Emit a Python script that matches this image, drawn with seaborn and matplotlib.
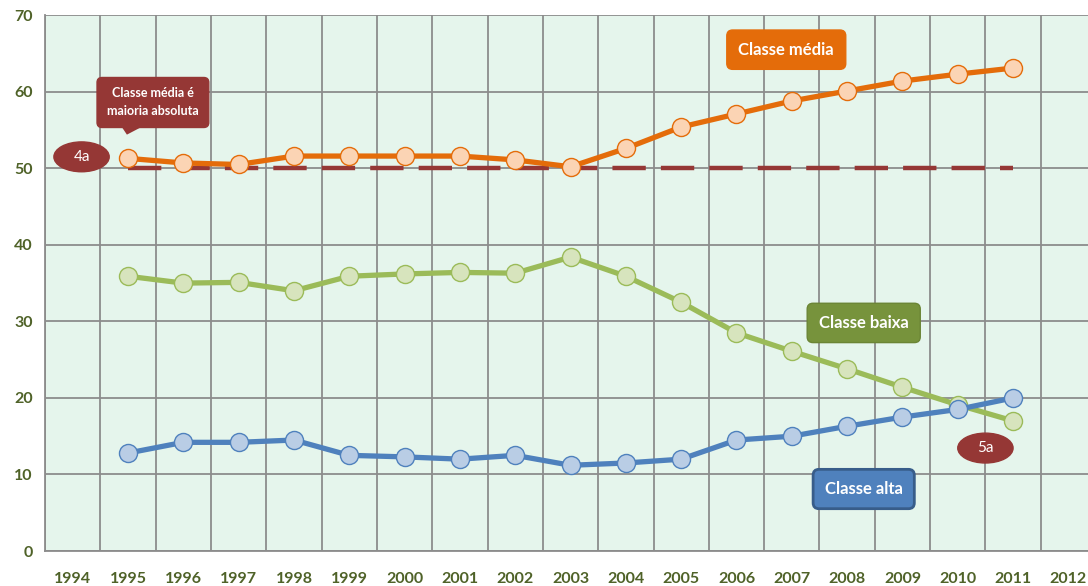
import numpy as np
import pandas as pd
import matplotlib
matplotlib.use('Agg')
import matplotlib.pyplot as plt
import seaborn as sns
from matplotlib.patches import Polygon, Ellipse

anos = list(range(1995, 2012))
classe_media = [51.3, 50.7, 50.5, 51.6, 51.6, 51.6, 51.6, 51.1, 50.2, 52.6, 55.4, 57.1, 58.8, 60.1, 61.4, 62.3, 63.1]
classe_baixa = [35.9, 35.0, 35.1, 34.0, 35.9, 36.2, 36.4, 36.3, 38.4, 35.9, 32.5, 28.5, 26.1, 23.8, 21.4, 19.1, 17.0]
classe_alta = [12.8, 14.2, 14.2, 14.5, 12.5, 12.3, 12.0, 12.5, 11.2, 11.5, 12.0, 14.5, 15.0, 16.3, 17.5, 18.5, 20.0]
maioria = [50] * len(anos)
x_ticks = list(range(1994, 2013))
y_ticks = [0, 10, 20, 30, 40, 50, 60, 70]

sns.set_style('white')
plt.rcParams['font.family'] = ['Lato', 'DejaVu Sans']

fig = plt.figure(figsize=(10.88, 5.86), dpi=100)
ax = fig.add_axes([0.0414, 0.0597, 0.966, 0.9143])
ax.set_facecolor('#e5f5ec')

# linha de 50%
sns.lineplot(x=anos, y=maioria, ax=ax, color='#953735', linewidth=3.2, dashes=(7.5, 3.4), zorder=2)

series = [
    (classe_media, '#e46c0a', '#fbd4b4'),
    (classe_baixa, '#9bbb59', '#d7e4bd'),
    (classe_alta, '#4f81bd', '#b9cde5'),
]
for vals, cor, face in series:
    sns.lineplot(x=anos, y=vals, ax=ax, color=cor, linewidth=3.8, marker='o', markersize=13,
                 markerfacecolor=face, markeredgecolor=cor, markeredgewidth=1.0, zorder=3)

ax.set_xlim(1993.5, 2012.5)
ax.set_ylim(0, 70)
ax.set_xticks(x_ticks)
ax.set_yticks(y_ticks)
ax.set_xticks(np.arange(1993.5, 2013, 1), minor=True)
ax.grid(which='minor', axis='x', color='#8c8c8c', linewidth=1.3)
ax.grid(which='major', axis='y', color='#8c8c8c', linewidth=1.3)
ax.grid(which='major', axis='x', visible=False)
ax.tick_params(axis='both', which='both', length=0)
ax.tick_params(axis='x', pad=15)
ax.tick_params(axis='y', pad=9)
for lab in ax.get_xticklabels() + ax.get_yticklabels():
    lab.set_fontweight('bold')
    lab.set_color('#4f6228')
    lab.set_fontsize(11.5)
for s in ['left', 'bottom']:
    ax.spines[s].set_color('#8c8c8c')
    ax.spines[s].set_linewidth(1.3)
for s in ['top', 'right']:
    ax.spines[s].set_visible(False)
ax.set_xlabel('')
ax.set_ylabel('')

# rótulos das séries
caixa = 'round,pad=0.7,rounding_size=0.35'
ax.text(2006.9, 65.5, 'Classe média', ha='center', va='center', color='white', fontsize=12, fontweight='bold',
        bbox=dict(boxstyle=caixa, fc='#e46c0a', ec='#e46c0a'), zorder=5)
ax.text(2008.3, 29.8, 'Classe baixa', ha='center', va='center', color='white', fontsize=12, fontweight='bold',
        bbox=dict(boxstyle=caixa, fc='#77933c', ec='#6b8535'), zorder=5)
ax.text(2008.3, 8.1, 'Classe alta', ha='center', va='center', color='white', fontsize=12, fontweight='bold',
        bbox=dict(boxstyle=caixa, fc='#4f81bd', ec='#385d8a', lw=2), zorder=5)

# balão
ax.text(1995.45, 58.6, 'Classe média é\nmaioria absoluta', ha='center', va='center', color='white',
        fontsize=9, fontweight='bold', linespacing=1.6,
        bbox=dict(boxstyle='round,pad=0.8,rounding_size=0.4', fc='#953735', ec='#953735'), zorder=5)
ax.add_patch(Polygon([[1994.85, 55.8], [1995.35, 55.8], [1994.98, 54.4]], closed=True,
                     fc='#953735', ec='none', zorder=5))

for xc, yc, txt in [(1994.16, 51.5, '4a'), (2010.5, 13.45, '5a')]:
    ax.add_patch(Ellipse((xc, yc), 1.0, 3.9, fc='#953735', ec='#953735', zorder=5))
    ax.text(xc, yc, txt, ha='center', va='center', color='white', fontsize=11, zorder=6)

plt.savefig('out.png', dpi=100)
